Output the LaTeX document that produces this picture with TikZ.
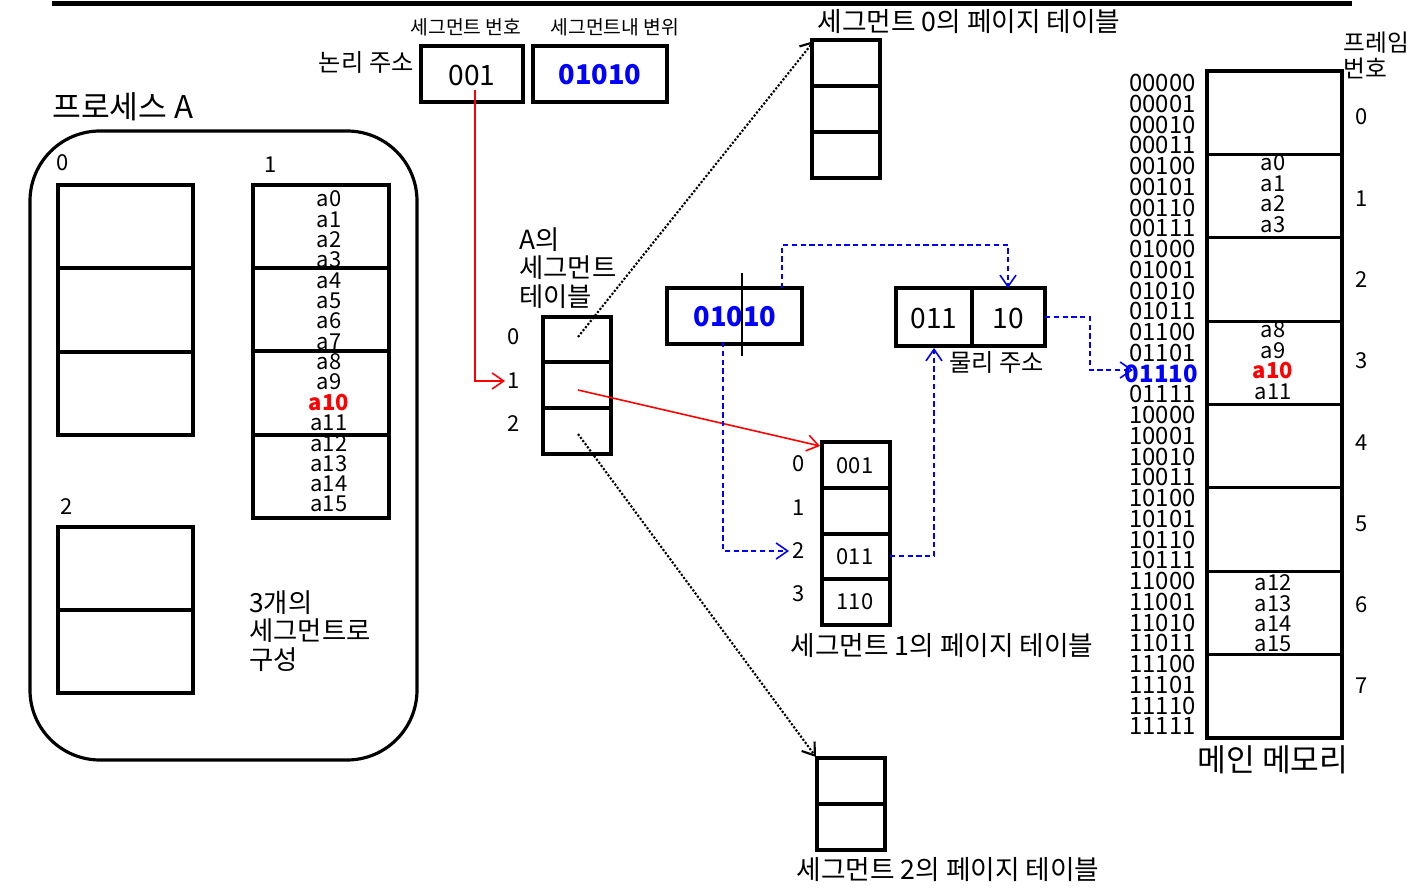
\documentclass[tikz,border=0pt]{standalone}
\usepackage{fontspec}
\setmainfont{Noto Sans CJK KR}
\usetikzlibrary{arrows.meta}

\begin{document}
\begin{tikzpicture}[x=0.02cm, y=-0.02cm,
  every node/.style={inner sep=0pt},
  cell/.style={draw, line width=1.8pt},
  small/.style={font=\fontsize{11}{13}\selectfont},
  mid/.style={font=\fontsize{12.5}{15}\selectfont},
  lbl/.style={font=\fontsize{13.8}{16}\selectfont},
  big/.style={font=\fontsize{15}{16.2}\selectfont},
  title/.style={font=\fontsize{15.2}{18}\selectfont},
  head/.style={font=\fontsize{17.8}{20}\selectfont},
  num/.style={font=\fontsize{16}{18}\selectfont},
  numb/.style={font=\fontsize{15.5}{18}\selectfont\bfseries, blue},
  tip/.style={-{Straight Barb[length=2.3mm,width=3.2mm]}},
  redarr/.style={tip, red, line width=0.9pt},
  bluearr/.style={tip, blue, line width=0.9pt, dash pattern=on 3pt off 2pt},
  dotarr/.style={tip, line width=1.2pt, densely dotted}]
  \useasboundingbox (0,0) rectangle (1413,891);

  % top rule
  \draw[line width=2.3pt] (52,3.5) -- (1352,3.5);

  % Logical address
  \node[small] (segnolbl) at (466,27) {세그먼트 번호};
  \node[small] (offlbl) at (615,27) {세그먼트내 변위};
  \node[lbl, anchor=east] (laddr) at (414,62) {논리 주소};
  \draw[cell] (421,46) rectangle (523,102);
  \node[num] (segno) at (472,75) {001};
  \draw[cell] (533,46) rectangle (667,102);
  \node[numb] (offset) at (600,75) {01010};

  % Process A with its three segments
  \node[head, anchor=west] (proc) at (52,107) {프로세스 A};
  \draw[line width=1.8pt, rounded corners=1.4cm] (30,131) rectangle (417,760);
  \node[mid] (s0lbl) at (63,163) {0};
  \draw[cell] (58,185) rectangle (193,435);
  \foreach \y in {268,352} \draw[cell] (58,\y) -- (193,\y);
  \node[mid] (s1lbl) at (271,165) {1};
  \draw[cell] (253,185) rectangle (389,518);
  \foreach \y in {268,351,435} \draw[cell] (253,\y) -- (389,\y);
  \foreach \i in {0,...,15} {
    \ifnum\i=10
      \node[mid, red, font=\fontsize{12.5}{15}\selectfont\bfseries] (s1a\i) at (329,199+\i*20.35) {a\i};
    \else
      \node[mid] (s1a\i) at (329,199+\i*20.35) {a\i};
    \fi
  }
  \node[mid] (s2lbl) at (67,507) {2};
  \draw[cell] (58,527) rectangle (193,693);
  \draw[cell] (58,610) -- (193,610);
  \node[big, align=left, anchor=west] (nseg) at (249,631) {3개의\\세그먼트로\\구성};

  % Segment table of A
  \node[big, align=left, anchor=west] (stlbl) at (519,268) {A의\\세그먼트\\테이블};
  \draw[cell] (543,317) rectangle (611,454);
  \foreach \y in {362,408} \draw[cell] (543,\y) -- (611,\y);
  \foreach \i/\y in {0/337,1/381,2/424} \node[mid] (st\i lbl) at (514,\y) {\i};

  % Page table of segment 0
  \node[title] (pt0lbl) at (969,22) {세그먼트 0의 페이지 테이블};
  \draw[cell] (812,40) rectangle (880,178);
  \foreach \y in {86,132} \draw[cell] (812,\y) -- (880,\y);

  % Page table of segment 1
  \draw[cell] (822,442) rectangle (890,625);
  \foreach \y in {488,534,579} \draw[cell] (822,\y) -- (890,\y);
  \foreach \i/\y in {0/464,1/508,2/551,3/594} \node[mid] (pt\i lbl) at (799,\y) {\i};
  \node[mid] (pg0) at (855,466) {001};
  \node[mid] (pg2) at (855,557) {011};
  \node[mid] (pg3) at (855,602) {110};
  \node[title] (pt1lbl) at (942,646) {세그먼트 1의 페이지 테이블};

  % Page table of segment 2
  \draw[cell] (817,758) rectangle (885,850);
  \draw[cell] (817,804) -- (885,804);
  \node[title] (pt2lbl) at (948,870) {세그먼트 2의 페이지 테이블};

  % Offset split into page number and page offset
  \draw[cell] (667,288) rectangle (802,344);
  \node[numb] (off2) at (735,317) {01010};
  \draw[line width=1pt] (742,273) -- (742,356);

  % Physical address
  \draw[cell] (896,288) rectangle (1045,346);
  \draw[cell] (972,288) -- (972,346);
  \node[num] (frm) at (934,318) {011};
  \node[num] (pgoff) at (1008,318) {10};
  \node[lbl, anchor=west] (paddr) at (949,362) {물리 주소};

  % Main memory
  \draw[cell] (1207,71) rectangle (1342,738);
  \foreach \k in {1,...,7} \draw[cell] (1207,71+\k*83.375) -- (1342,71+\k*83.375);
  \foreach \f in {0,...,7} \node[mid] (fr\f) at (1362,117+\f*81.3) {\f};
  \node[align=left, anchor=west, font=\fontsize{13.5}{14.8}\selectfont] (frlbl) at (1343,55) {프레임\\번호};
  \foreach \a [count=\i from 0] in {00000,00001,00010,00011,00100,00101,00110,00111,
      01000,01001,01010,01011,01100,01101,01110,01111,10000,10001,10010,10011,
      10100,10101,10110,10111,11000,11001,11010,11011,11100,11101,11110,11111} {
    \ifnum\i=14
      \node[anchor=east, blue, font=\fontsize{13.6}{15}\selectfont\bfseries] (m\i) at (1198,83+\i*20.75) {\a};
    \else
      \node[anchor=east, font=\fontsize{13.6}{15}\selectfont] (m\i) at (1196,83+\i*20.75) {\a};
    \fi
  }
  \foreach \k in {0,...,3} \node[mid] (f1a\k) at (1273,163+\k*20.4) {a\k};
  \node[mid] (f3a8) at (1273,330) {a8};
  \node[mid] (f3a9) at (1273,350.5) {a9};
  \node[mid, red, font=\fontsize{12.5}{15}\selectfont\bfseries] (f3a10) at (1273,371) {a10};
  \node[mid] (f3a11) at (1273,391.5) {a11};
  \foreach \k in {12,...,15} \node[mid] (f6a\k) at (1273,583+\k*20.4-12*20.4) {a\k};
  \node[head] (mem) at (1273,760) {메인 메모리};

  % Connectors
  \coordinate (segnoBot) at (475,90);
  \coordinate (st1in) at (505,381);
  \draw[redarr] (segnoBot) |- (st1in);
  \coordinate (st1c) at (578,390);
  \coordinate (pt1top) at (820,446);
  \draw[redarr] (st1c) -- (pt1top);
  \coordinate (st0c) at (578,337);
  \coordinate (pt0top) at (814,41);
  \draw[dotarr] (st0c) -- (pt0top);
  \coordinate (st2c) at (578,434);
  \coordinate (pt2top) at (816,757);
  \draw[dotarr] (st2c) -- (pt2top);
  \coordinate (offLo) at (723,342);
  \coordinate (pt2in) at (789,551);
  \draw[bluearr] (offLo) |- (pt2in);
  \coordinate (offHi) at (782,288);
  \coordinate (bendA) at (782,245);
  \coordinate (paOff) at (1008,288);
  \draw[bluearr] (offHi) -- (bendA) -| (paOff);
  \coordinate (pg2r) at (890,556);
  \coordinate (paBot) at (934,348);
  \draw[bluearr] (pg2r) -| (paBot);
  \coordinate (paR) at (1045,317);
  \coordinate (bendB) at (1090,370);
  \coordinate (memIn) at (1133,370);
  \draw[bluearr] (paR) -| (bendB) -- (memIn);
\end{tikzpicture}
\end{document}
